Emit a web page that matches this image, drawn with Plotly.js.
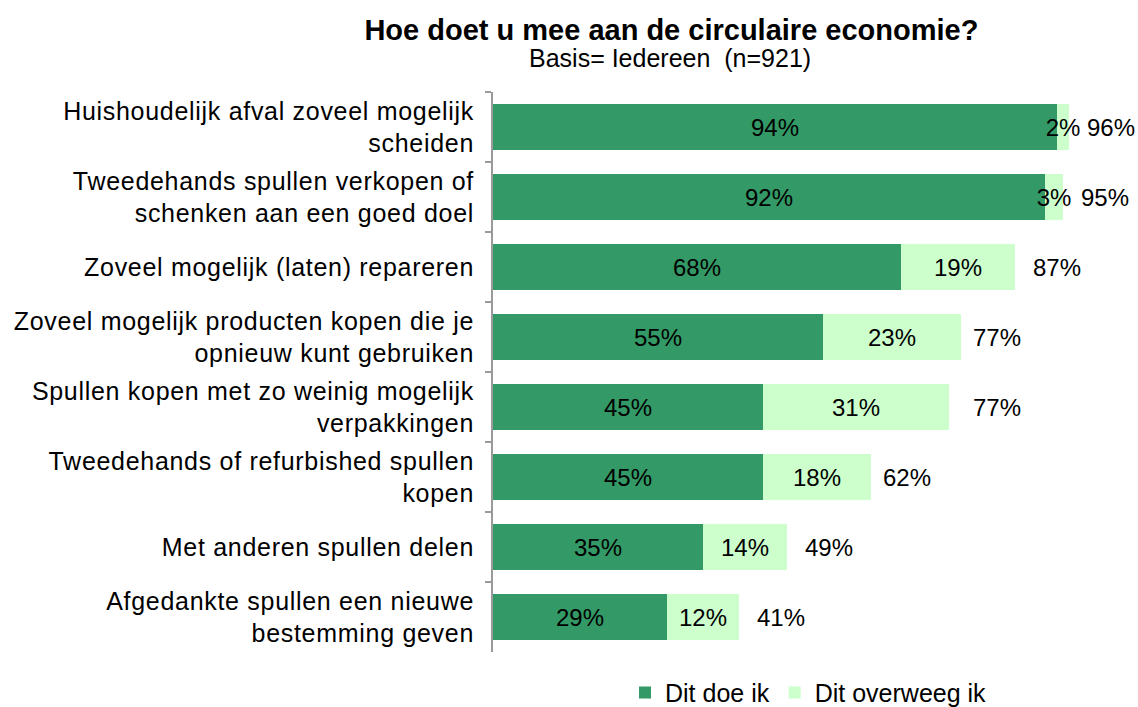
<!DOCTYPE html>
<html>
<head>
<meta charset="utf-8">
<script src="https://cdn.plot.ly/plotly-3.0.1.min.js"></script>
<style>
html,body{margin:0;padding:0;background:#fff;}
#chart{width:1138px;height:707px;}
#chart .ytick text{letter-spacing:0.7px;}
</style>
</head>
<body>
<div id="chart"></div>
<script>
const categories = [
  "Huishoudelijk afval zoveel mogelijk<br>scheiden",
  "Tweedehands spullen verkopen of<br>schenken aan een goed doel",
  "Zoveel mogelijk (laten) repareren",
  "Zoveel mogelijk producten kopen die je<br>opnieuw kunt gebruiken",
  "Spullen kopen met zo weinig mogelijk<br>verpakkingen",
  "Tweedehands of refurbished spullen<br>kopen",
  "Met anderen spullen delen",
  "Afgedankte spullen een nieuwe<br>bestemming geven"
];
const doeIk = [94, 92, 68, 55, 45, 45, 35, 29];
const overweegIk = [2, 3, 19, 23, 31, 18, 14, 12];
const totals = [96, 95, 87, 77, 77, 62, 49, 41];
const seriesNames = ["Dit doe ik", "Dit overweeg ik"];
const titleText = "Hoe doet u mee aan de circulaire economie?";
const subtitleText = "Basis= Iedereen  (n=921)";

const FONT = "Liberation Sans, Arial, sans-serif";
const pct = v => v + "%";

const traces = [
  {
    type: "bar", orientation: "h", name: seriesNames[0],
    y: categories, x: doeIk, text: doeIk.map(pct),
    marker: {color: "#339966"},
    textposition: "inside", insidetextanchor: "middle", constraintext: "none", textangle: 0,
    textfont: {family: FONT, size: 24, color: "#000"},
    cliponaxis: false, hoverinfo: "skip"
  },
  {
    type: "bar", orientation: "h", name: seriesNames[1],
    y: categories, x: overweegIk, text: overweegIk.map(pct),
    marker: {color: "#CCFFCC"},
    textposition: "inside", insidetextanchor: "middle", constraintext: "none", textangle: 0,
    textfont: {family: FONT, size: 24, color: "#000"},
    cliponaxis: false, hoverinfo: "skip"
  }
];

const annotations = totals.map((t, i) => ({
  x: t, y: categories[i], xref: "x", yref: "y",
  text: pct(t), showarrow: false, xanchor: "left", xshift: 16,
  font: {family: FONT, size: 24, color: "#000"}
}));
annotations.push({
  xref: "paper", yref: "paper", x: 0.295, y: 1.0, yshift: 34,
  xanchor: "center", yanchor: "middle", showarrow: false,
  text: subtitleText, font: {family: FONT, size: 25, color: "#000"}
});

const layout = {
  width: 1138, height: 707,
  margin: {l: 493, r: 45, t: 92, b: 55},
  paper_bgcolor: "#fff", plot_bgcolor: "#fff",
  font: {family: FONT, size: 25, color: "#000"},
  title: {
    text: "<b>" + titleText + "</b>",
    x: 0.59, xref: "container", xanchor: "center",
    y: 0.958, yref: "container", yanchor: "middle",
    font: {family: FONT, size: 29, color: "#000"}
  },
  barmode: "stack",
  bargap: 0.34,
  showlegend: true,
  legend: {
    orientation: "h", x: 0.22, xanchor: "left", xref: "paper",
    y: 0.02, yanchor: "middle", yref: "container",
    font: {family: FONT, size: 25, color: "#000"},
    traceorder: "normal"
  },
  xaxis: {
    range: [0, 100], visible: false, fixedrange: true
  },
  yaxis: {
    type: "category", autorange: "reversed",
    showline: true, linecolor: "#9a9a9a", linewidth: 2,
    ticks: "outside", tickson: "boundaries", ticklen: 6, tickcolor: "#9a9a9a", tickwidth: 2,
    ticklabelstandoff: 12,
    showgrid: false, zeroline: false,
    tickfont: {family: FONT, size: 25, color: "#000"}
  },
  annotations: annotations
};

Plotly.newPlot("chart", traces, layout, {displayModeBar: false, staticPlot: true});
</script>
</body>
</html>
